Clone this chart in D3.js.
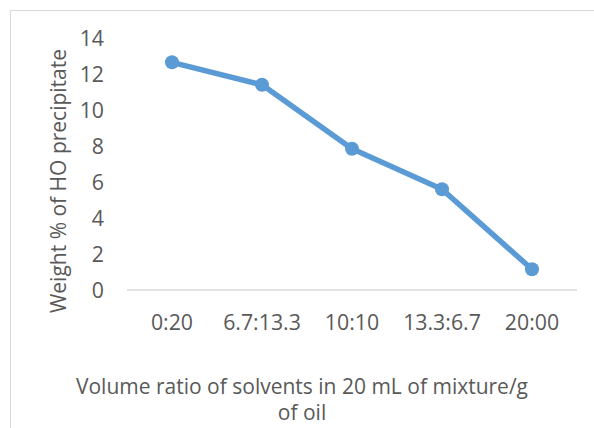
<!DOCTYPE html>
<html><head><meta charset="utf-8">
<script src="https://cdn.jsdelivr.net/npm/d3@7"></script>
<style>
html,body{margin:0;padding:0;background:#fff;}
svg{display:block;font-family:"Open Sans",sans-serif;}
</style></head>
<body><svg id="c" width="594" height="428"></svg>
<script>
const categories = ["0:20","6.7:13.3","10:10","13.3:6.7","20:00"];
const values = [12.65, 11.4, 7.85, 5.6, 1.15];
const yTicks = [0,2,4,6,8,10,12,14];
const yTitle = "Weight % of HO precipitate";
const xTitleLines = ["Volume ratio of solvents in 20 mL of mixture/g","of oil"];

(function(){
const svg = d3.select("#c");
const W=594,H=428;
svg.append("rect").attr("x",0).attr("y",0).attr("width",W).attr("height",H).attr("fill","#fff");
svg.append("rect").attr("x",10.5).attr("y",10.5).attr("width",W+20).attr("height",H+20)
  .attr("fill","none").attr("stroke","#d9d9d9").attr("stroke-width",1);

const pL=127, pR=577, pT=38, pB=290;
const x = d3.scaleBand().domain(categories).range([pL,pR]);
const y = d3.scaleLinear().domain([0,14]).range([pB,pT]);
const textCol="#595959";

svg.append("line").attr("x1",pL).attr("x2",pR).attr("y1",y(0)).attr("y2",y(0))
  .attr("stroke","#d9d9d9").attr("stroke-width",1.5);

svg.append("g").selectAll("text").data(yTicks).join("text")
  .attr("x",104).attr("y",d=>y(d)).attr("dy","0.36em").attr("text-anchor","end")
  .attr("fill",textCol).attr("font-size",21.3).text(d=>d);

svg.append("g").selectAll("text").data(categories).join("text")
  .attr("x",d=>x(d)+x.bandwidth()/2).attr("y",322).attr("dy","0.36em").attr("text-anchor","middle")
  .attr("fill",textCol).attr("font-size",21.3).text(d=>d);

const line = d3.line().x((d,i)=>x(categories[i])+x.bandwidth()/2).y(d=>y(d));
svg.append("path").datum(values).attr("d",line).attr("fill","none")
  .attr("stroke","#5b9bd5").attr("stroke-width",5.5).attr("stroke-linejoin","round").attr("stroke-linecap","round");
svg.append("g").selectAll("circle").data(values).join("circle")
  .attr("cx",(d,i)=>x(categories[i])+x.bandwidth()/2).attr("cy",d=>y(d)).attr("r",7)
  .attr("fill","#5b9bd5");

svg.append("text").attr("transform","translate(66,181) rotate(-90)").attr("text-anchor","middle")
  .attr("fill",textCol).attr("font-size",21).text(yTitle);

svg.append("g").selectAll("text").data(xTitleLines).join("text")
  .attr("x",302).attr("y",(d,i)=>394+i*26).attr("text-anchor","middle")
  .attr("fill",textCol).attr("font-size",21).text(d=>d);
})();
</script></body></html>
